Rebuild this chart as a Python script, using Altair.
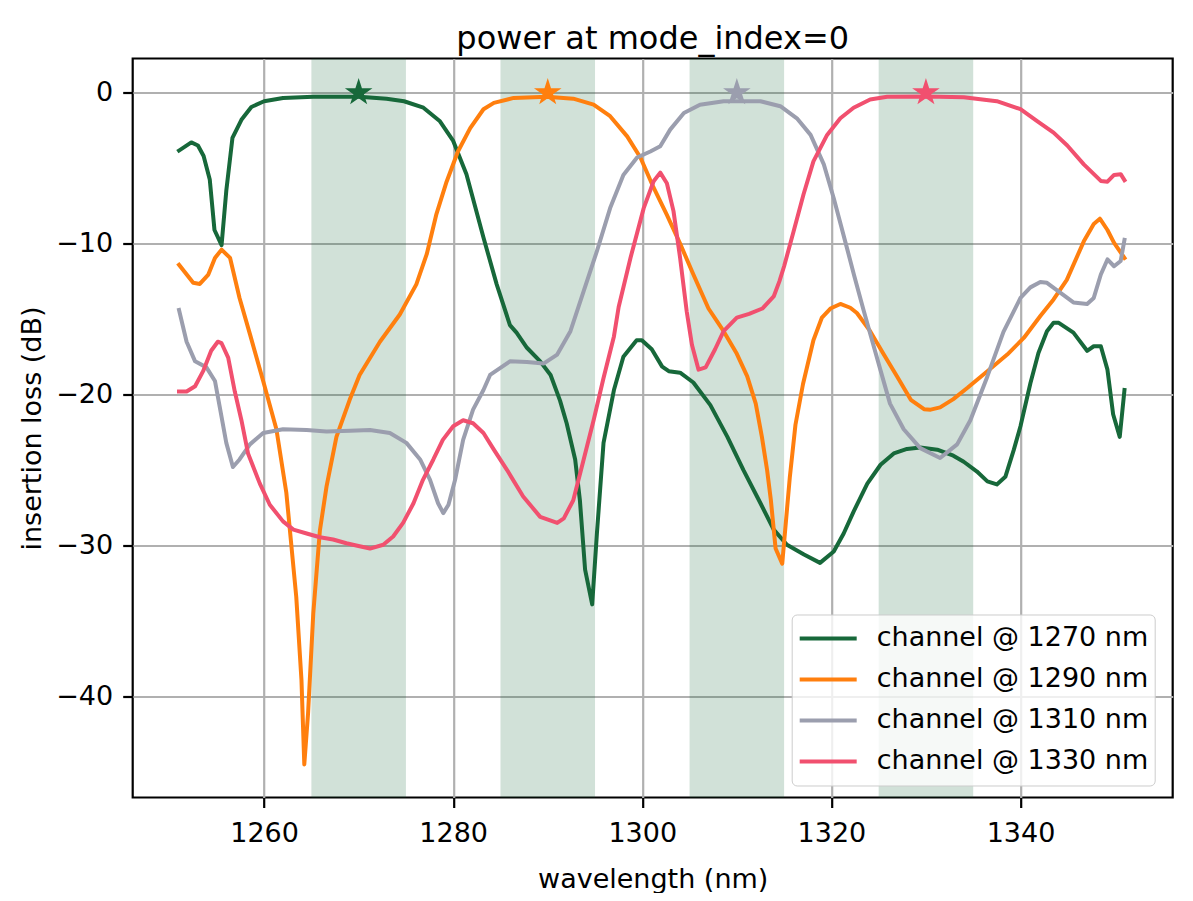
import altair as alt
import pandas as pd

# channel @ 1270 nm
wl_1270 = [1251.0, 1252.3, 1253.0, 1253.6, 1254.25, 1254.75, 1255.5, 1256.0, 1256.65, 1257.6,
           1258.65, 1260.0, 1262.0, 1265.2, 1270.1, 1272.95, 1274.8, 1276.85, 1278.6, 1280.0,
           1281.4, 1283.2, 1284.6, 1286.0, 1286.7, 1287.8, 1289.2, 1290.3, 1291.3, 1292.0,
           1292.9, 1293.4, 1293.95, 1294.7, 1295.2, 1295.9, 1297.0, 1298.0, 1299.4, 1299.95,
           1301.0, 1302.1, 1302.8, 1304.0, 1305.4, 1307.2, 1309.0, 1310.7, 1312.5, 1313.9,
           1315.3, 1317.1, 1318.8, 1320.25, 1321.3, 1322.35, 1323.8, 1325.2, 1326.6, 1328.0,
           1329.4, 1331.2, 1332.9, 1334.0, 1335.4, 1336.5, 1337.5, 1338.4, 1339.3, 1340.0,
           1341.05, 1341.9, 1342.8, 1343.5, 1344.05, 1345.6, 1347.05, 1347.75, 1348.5, 1349.2,
           1349.8, 1350.5, 1351.0]
il_1270 = [-3.84, -3.3, -3.5, -4.2, -5.75, -9.1, -10.1, -6.5, -3.0, -1.8,
           -0.95, -0.57, -0.35, -0.28, -0.27, -0.4, -0.57, -1.0, -1.9, -3.2,
           -5.4, -9.6, -12.7, -15.4, -15.9, -16.9, -17.8, -18.7, -20.4, -21.9,
           -24.3, -27.0, -31.6, -33.9, -29.2, -23.2, -19.7, -17.5, -16.4, -16.4,
           -17.0, -18.15, -18.45, -18.55, -19.2, -20.7, -22.8, -25.0, -27.2, -28.95,
           -29.95, -30.6, -31.15, -30.4, -29.2, -27.75, -25.9, -24.65, -23.9, -23.6,
           -23.5, -23.65, -24.05, -24.45, -25.1, -25.75, -25.95, -25.45, -23.65, -22.1,
           -19.25, -17.25, -15.8, -15.25, -15.25, -15.9, -17.1, -16.8, -16.8, -18.35,
           -21.3, -22.8, -19.7]

# channel @ 1290 nm
wl_1290 = [1251.0, 1252.5, 1253.2, 1254.1, 1254.8, 1255.5, 1256.4, 1257.4, 1258.5, 1259.9,
           1261.3, 1262.35, 1263.4, 1263.95, 1264.25, 1264.65, 1265.2, 1265.9, 1266.6, 1267.65,
           1269.05, 1270.1, 1272.25, 1274.35, 1276.1, 1277.2, 1278.2, 1279.3, 1280.5, 1281.8,
           1283.2, 1284.3, 1286.4, 1289.9, 1292.7, 1294.85, 1296.6, 1298.4, 1299.8, 1301.2,
           1302.6, 1304.0, 1305.3, 1307.0, 1308.6, 1310.0, 1311.1, 1312.0, 1312.65, 1313.2,
           1313.6, 1314.1, 1314.8, 1315.6, 1316.2, 1317.0, 1318.1, 1319.0, 1319.9, 1320.95,
           1322.0, 1322.7, 1324.1, 1325.5, 1326.95, 1328.4, 1329.8, 1330.5, 1331.5, 1332.9,
           1334.4, 1336.5, 1338.6, 1340.35, 1342.1, 1343.5, 1344.9, 1346.7, 1347.75, 1348.4,
           1349.2, 1349.9, 1351.0]
il_1290 = [-11.4, -12.6, -12.67, -12.05, -10.95, -10.4, -10.95, -13.6, -16.0, -19.1,
           -22.3, -26.5, -33.4, -38.9, -44.5, -41.1, -34.5, -29.0, -26.1, -22.8,
           -20.35, -18.7, -16.5, -14.7, -12.7, -10.7, -8.1, -5.9, -3.9, -2.35,
           -1.1, -0.68, -0.35, -0.28, -0.4, -0.8, -1.56, -2.9, -4.3, -6.3,
           -8.1, -10.0, -11.9, -14.3, -15.8, -17.3, -18.8, -20.6, -22.8, -25.0,
           -27.0, -30.2, -31.2, -25.5, -22.0, -19.3, -16.4, -14.9, -14.3, -14.0,
           -14.25, -14.6, -15.8, -17.3, -18.8, -20.35, -20.97, -21.0, -20.85, -20.3,
           -19.55, -18.45, -17.35, -16.25, -14.8, -13.7, -12.4, -9.85, -8.7, -8.35,
           -9.1, -9.95, -10.95]

# channel @ 1310 nm
wl_1310 = [1251.0, 1251.8, 1252.7, 1253.9, 1254.8, 1255.3, 1256.0, 1256.7, 1257.4, 1258.5,
           1259.9, 1262.0, 1264.5, 1266.6, 1269.1, 1271.2, 1273.3, 1275.05, 1276.5, 1277.55,
           1278.4, 1278.95, 1279.5, 1280.2, 1281.05, 1282.1, 1283.2, 1283.9, 1286.0, 1287.8,
           1289.55, 1291.0, 1292.4, 1293.8, 1295.2, 1296.6, 1298.0, 1299.45, 1300.85, 1301.9,
           1302.95, 1304.4, 1306.1, 1308.6, 1312.5, 1314.6, 1316.35, 1317.8, 1319.2, 1320.25,
           1321.65, 1322.4, 1323.4, 1324.3, 1325.2, 1326.2, 1327.65, 1329.4, 1331.5, 1333.3,
           1334.7, 1336.5, 1338.2, 1340.0, 1341.05, 1342.1, 1342.8, 1344.2, 1345.6, 1347.05,
           1347.75, 1348.5, 1349.2, 1349.9, 1350.6, 1351.0]
il_1310 = [-14.4, -16.5, -17.8, -18.2, -19.1, -20.8, -23.2, -24.8, -24.3, -23.3,
           -22.55, -22.3, -22.35, -22.45, -22.4, -22.35, -22.55, -23.2, -24.3, -25.65,
           -27.2, -27.85, -27.3, -25.65, -23.0, -21.0, -19.7, -18.7, -17.8, -17.85,
           -17.95, -17.35, -15.8, -13.15, -10.5, -7.65, -5.45, -4.3, -3.9, -3.55,
           -2.45, -1.35, -0.8, -0.57, -0.57, -0.9, -1.7, -2.8, -4.75, -7.0,
           -10.3, -12.1, -14.4, -16.4, -18.4, -20.6, -22.3, -23.55, -24.2, -23.3,
           -21.7, -18.8, -15.85, -13.6, -12.9, -12.55, -12.6, -13.25, -13.9, -14.0,
           -13.6, -12.05, -11.05, -11.5, -11.15, -9.75]

# channel @ 1330 nm
wl_1330 = [1251.0, 1251.8, 1252.7, 1253.55, 1254.4, 1255.1, 1255.5, 1256.2, 1256.9, 1257.6,
           1258.3, 1259.55, 1260.6, 1262.0, 1263.1, 1264.5, 1265.9, 1267.3, 1268.7, 1270.1,
           1271.2, 1272.6, 1273.65, 1274.7, 1275.8, 1276.8, 1277.9, 1278.9, 1280.0, 1281.05,
           1282.1, 1283.2, 1284.3, 1285.7, 1287.4, 1289.2, 1291.0, 1291.7, 1292.7, 1293.8,
           1294.85, 1295.9, 1297.0, 1297.5, 1298.75, 1300.15, 1301.2, 1301.9, 1302.6, 1303.3,
           1304.0, 1304.7, 1305.25, 1305.95, 1306.7, 1307.7, 1308.6, 1310.0, 1311.3, 1312.7,
           1313.9, 1314.5, 1315.0, 1316.0, 1317.05, 1318.1, 1319.55, 1320.95, 1322.35, 1324.1,
           1325.9, 1330.1, 1334.0, 1337.5, 1340.0, 1341.8, 1343.5, 1344.95, 1346.7, 1348.5,
           1349.2, 1349.9, 1350.6, 1351.0]
il_1330 = [-19.8, -19.8, -19.45, -18.45, -17.1, -16.5, -16.6, -17.55, -19.8, -21.7,
           -23.9, -25.9, -27.3, -28.4, -28.95, -29.2, -29.45, -29.6, -29.85, -30.05,
           -30.2, -29.95, -29.4, -28.5, -27.2, -25.65, -24.3, -23.0, -22.1, -21.7,
           -21.9, -22.55, -23.65, -25.0, -26.75, -28.1, -28.5, -28.2, -27.0, -24.3,
           -21.7, -18.9, -16.15, -14.2, -10.95, -7.65, -5.87, -5.3, -6.0, -7.85,
           -10.95, -14.5, -16.7, -18.35, -18.2, -17.0, -15.8, -14.9, -14.65, -14.3,
           -13.5, -12.5, -11.5, -9.2, -6.75, -4.55, -2.8, -1.7, -1.0, -0.45,
           -0.28, -0.25, -0.3, -0.57, -1.1, -1.9, -2.65, -3.5, -4.75, -5.85,
           -5.9, -5.45, -5.4, -5.8]

channels = ["channel @ 1270 nm", "channel @ 1290 nm", "channel @ 1310 nm", "channel @ 1330 nm"]
colors = ["#17683a", "#ff7f0e", "#9b9eae", "#f1506f"]

# pass bands and their centre markers
band_lo = [1265, 1285, 1305, 1325]
band_hi = [1275, 1295, 1315, 1335]
star_wl = [1270, 1290, 1310, 1330]
star_il = [0.0, 0.0, 0.0, 0.0]

x_ticks = [1260, 1280, 1300, 1320, 1340]
y_ticks = [-40, -30, -20, -10, 0]

STAR = ("M0,-1L-0.2245,-0.309L-0.9511,-0.309L-0.3633,0.118L-0.5878,0.809"
        "L0,0.382L0.5878,0.809L0.3633,0.118L0.9511,-0.309L0.2245,-0.309Z")

series = [(wl_1270, il_1270), (wl_1290, il_1290), (wl_1310, il_1310), (wl_1330, il_1330)]
lines_df = pd.concat(
    [pd.DataFrame({"wl": w, "il": v, "channel": ch}) for (w, v), ch in zip(series, channels)],
    ignore_index=True,
)
bands_df = pd.DataFrame({"lo": band_lo, "hi": band_hi})
stars_df = pd.DataFrame({"wl": star_wl, "il": star_il, "color": colors})

x_scale = alt.Scale(domain=[1246.1, 1356.1], nice=False, zero=False)
y_scale = alt.Scale(domain=[-46.69, 2.26], nice=False, zero=False)
x_axis = alt.Axis(values=x_ticks, format="d", title="wavelength (nm)")
y_axis = alt.Axis(values=y_ticks, format="d", title="insertion loss (dB)")

bands = alt.Chart(bands_df).mark_rect(color=colors[0], opacity=0.2).encode(
    x=alt.X("lo:Q", scale=x_scale, axis=x_axis),
    x2="hi:Q",
)

lines = alt.Chart(lines_df).mark_line(
    strokeWidth=4, strokeJoin="round", strokeCap="square", clip=True
).encode(
    x=alt.X("wl:Q", scale=x_scale, axis=x_axis),
    y=alt.Y("il:Q", scale=y_scale, axis=y_axis),
    color=alt.Color(
        "channel:N",
        scale=alt.Scale(domain=channels, range=colors),
        legend=alt.Legend(
            title=None, orient="none", legendX=659, legendY=556,
            symbolType="stroke", symbolSize=3249, symbolStrokeWidth=4,
            labelFontSize=27, labelColor="black", labelOffset=18, labelLimit=500,
            fillColor="rgba(255,255,255,0.8)", strokeColor="#cccccc",
            cornerRadius=5, padding=6, clipHeight=36, rowPadding=5,
        ),
    ),
)

stars = alt.Chart(stars_df).mark_point(
    shape=STAR, filled=True, size=841, opacity=1
).encode(
    x=alt.X("wl:Q", scale=x_scale, axis=x_axis),
    y=alt.Y("il:Q", scale=y_scale, axis=y_axis),
    color=alt.Color("color:N", scale=None),
)

chart = (bands + lines + stars).properties(
    width=1040,
    height=739,
    autosize=alt.AutoSizeParams(type="none"),
    padding={"left": 124.7, "top": 50.5, "right": 12, "bottom": 95},
    title=alt.TitleParams(
        "power at mode_index=0", fontSize=32, fontWeight="normal",
        color="black", anchor="middle", baseline="alphabetic",
        frame="group", offset=13, dy=35,
    ),
).configure(
    font="DejaVu Sans",
).configure_view(
    stroke="black", strokeWidth=2.2,
).configure_axis(
    grid=True, gridColor="#b0b0b0", gridWidth=2.2, domain=False,
    tickColor="black", tickWidth=2.2, tickSize=10,
    labelFontSize=27, labelColor="black", labelFlush=False,
    titleFontSize=27, titleFontWeight="normal", titleColor="black",
).configure_axisX(
    labelPadding=13, titleBaseline="alphabetic", titleY=90,
).configure_axisY(
    labelPadding=10, titleAngle=270, titleBaseline="alphabetic",
    titleX=-92, titleY=369.5,
)

chart.save("out.html", embed_options={"renderer": "svg", "actions": False})
